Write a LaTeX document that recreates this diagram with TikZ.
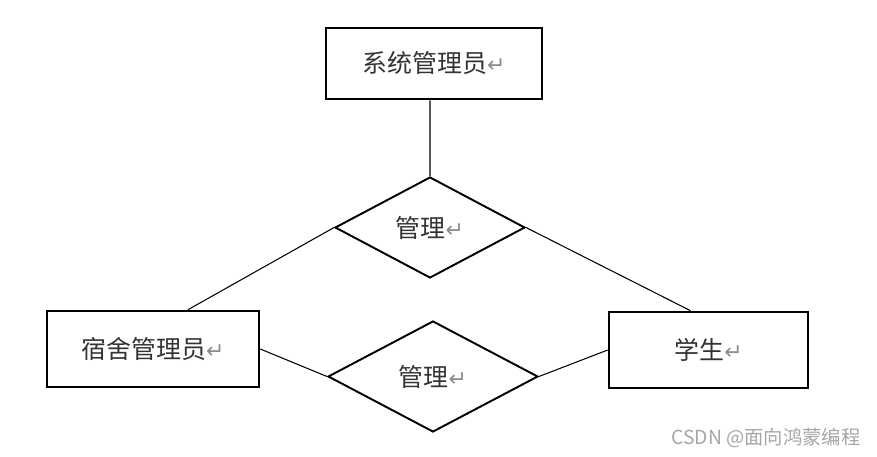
\documentclass[tikz,border=0pt]{standalone}
\usepackage{fontspec}
\newfontfamily\cjk{Noto Sans CJK SC}
\newfontfamily\arrowfont{DejaVu Sans}
\usetikzlibrary{shapes.geometric}
\newcommand{\retmark}{{\arrowfont\color{black!45}\fontsize{12.5}{12.5}\selectfont ↵}}

\begin{document}
\begin{tikzpicture}[x=0.02cm,y=-0.02cm,
  every node/.style={font=\cjk\fontsize{14.2}{17}\selectfont,text=black!80},
  entity/.style={draw,line width=1.5pt,inner sep=0pt},
  relation/.style={draw,diamond,line width=1.1pt,inner sep=0pt},
  every path/.style={line width=0.6pt}]
\useasboundingbox (0,0) rectangle (877,457);
\node[entity,minimum width=4.32cm,minimum height=1.42cm] (sys) at (434,63.5) {系统管理员\retmark};
\node[relation,minimum width=3.8cm,minimum height=2.02cm] (m1) at (430,227.5) {管理\retmark};
\node[entity,minimum width=4.24cm,minimum height=1.52cm] (dorm) at (153,349) {宿舍管理员\retmark};
\node[entity,minimum width=3.98cm,minimum height=1.52cm] (stu) at (708.5,350) {学生\retmark};
\node[relation,minimum width=4.2cm,minimum height=2.22cm] (m2) at (433,376.5) {管理\retmark};
\draw ([xshift=-0.08cm]sys.south) -- (m1.north);
\draw (m1.west) -- ([xshift=0.7cm]dorm.north);
\draw (m1.east) -- ([xshift=-0.36cm]stu.north);
\draw (dorm.east) -- (m2.west);
\draw (m2.east) -- (stu.west);
\node[font=\cjk\fontsize{11}{13}\selectfont,text=black!35] (mark) at (766,438) {CSDN @面向鸿蒙编程};
\end{tikzpicture}
\end{document}
